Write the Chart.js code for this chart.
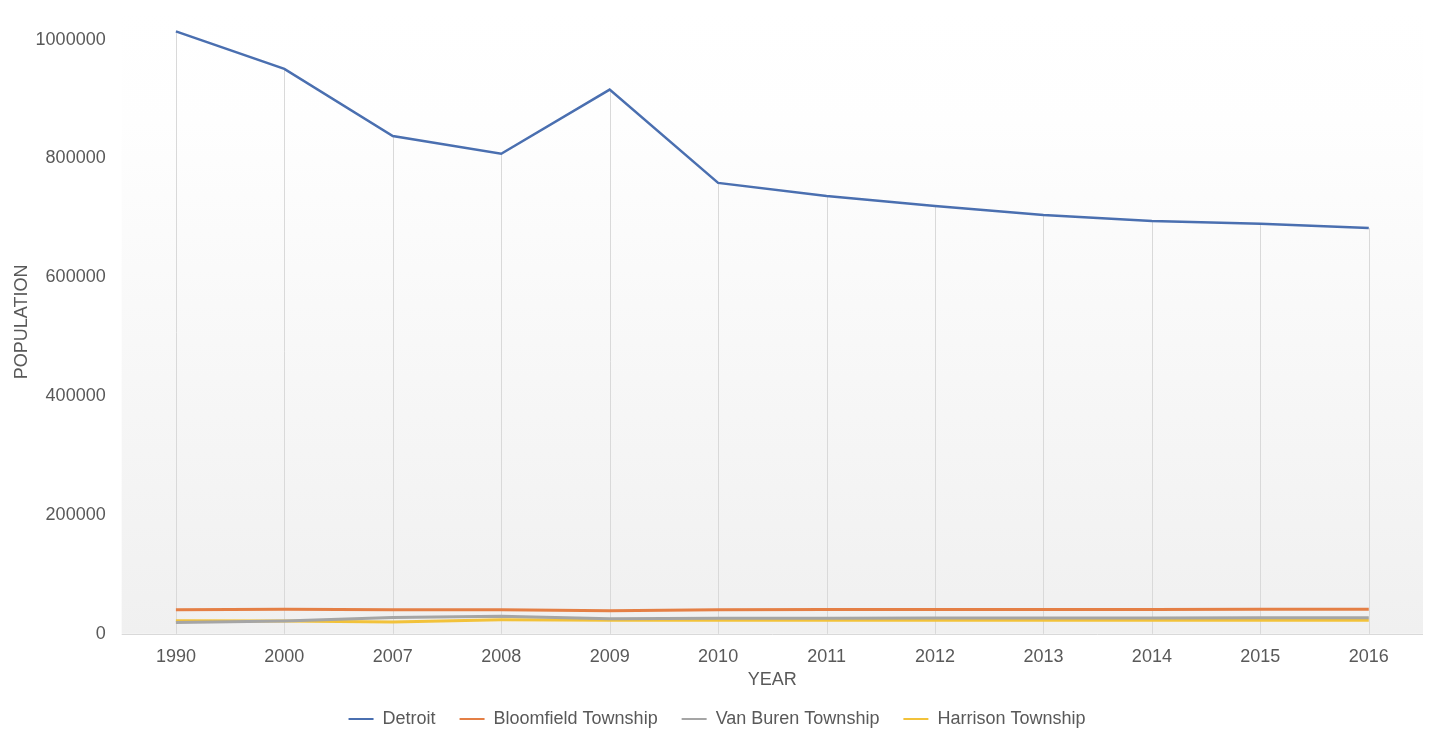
<!DOCTYPE html>
<html>
<head>
<meta charset="utf-8">
<title>Population</title>
<style>
  body { margin: 0; background: #fff; }
  #wrap { width: 1430px; height: 734px; }
</style>
</head>
<body>
<div id="wrap"><canvas id="popChart" width="1430" height="734"></canvas></div>
<script src="https://cdn.jsdelivr.net/npm/chart.js@4/dist/chart.umd.min.js"></script>
<script>
var years = ['1990', '2000', '2007', '2008', '2009', '2010', '2011', '2012', '2013', '2014', '2015', '2016'];
var detroit    = [1014000, 951000, 838000, 808000, 916000, 759000, 737000, 720000, 705000, 695000, 690000, 683000];
var bloomfield = [40500, 41500, 40500, 40500, 39000, 40500, 41000, 41000, 41000, 41000, 41500, 41500];
var vanBuren   = [19000, 21500, 27400, 29500, 25500, 26000, 26300, 26500, 26700, 26800, 27000, 27000];
var harrison   = [22000, 21500, 20000, 23500, 23000, 23000, 23000, 23000, 23000, 23000, 23000, 23000];
var yTicks = [0, 200000, 400000, 600000, 800000, 1000000];

var textColor = '#595959';
var font = { family: "'Liberation Sans', Arial, sans-serif", size: 18 };

// gradient plot background + drop lines from the highest point of each year
var plotDecor = {
  id: 'plotDecor',
  beforeDatasetsDraw: function (chart) {
    var ctx = chart.ctx, a = chart.chartArea;
    var x = chart.scales.x, y = chart.scales.y;
    ctx.save();
    var g = ctx.createLinearGradient(0, a.top, 0, a.bottom);
    g.addColorStop(0, '#ffffff');
    g.addColorStop(0.18, '#fefefe');
    g.addColorStop(1, '#f0f0f0');
    ctx.fillStyle = g;
    ctx.fillRect(a.left, a.top, a.right - a.left, a.bottom - a.top);
    ctx.strokeStyle = '#d9d9d9';
    ctx.lineWidth = 1;
    for (var i = 0; i < years.length; i++) {
      var top = Math.max(detroit[i], bloomfield[i], vanBuren[i], harrison[i]);
      var px = Math.round(x.getPixelForValue(i)) + 0.5;
      ctx.beginPath();
      ctx.moveTo(px, y.getPixelForValue(top));
      ctx.lineTo(px, a.bottom);
      ctx.stroke();
    }
    ctx.beginPath();
    ctx.moveTo(a.left, Math.round(a.bottom) + 0.5);
    ctx.lineTo(a.right, Math.round(a.bottom) + 0.5);
    ctx.stroke();
    ctx.restore();
  }
};

function series(label, data, color, width) {
  return {
    label: label,
    data: data,
    borderColor: color,
    backgroundColor: color,
    borderWidth: width,
    pointRadius: 0,
    tension: 0
  };
}

new Chart(document.getElementById('popChart'), {
  type: 'line',
  data: {
    labels: years,
    datasets: [
      series('Detroit', detroit, '#4A6FB0', 2.5),
      series('Bloomfield Township', bloomfield, '#E47F45', 3),
      series('Van Buren Township', vanBuren, '#A5A5A5', 3),
      series('Harrison Township', harrison, '#F2C23A', 3)
    ]
  },
  options: {
    responsive: false,
    animation: false,
    layout: { padding: { top: 10, right: 7, left: 11, bottom: -4 } },
    plugins: {
      legend: {
        position: 'bottom',
        labels: {
          color: textColor,
          font: font,
          boxWidth: 25,
          boxHeight: 2,
          padding: 24,
          generateLabels: function (chart) {
            var items = Chart.defaults.plugins.legend.labels.generateLabels(chart);
            items.forEach(function (it) { it.lineWidth = 0; });
            return items;
          }
        }
      },
      tooltip: { enabled: false }
    },
    scales: {
      x: {
        offset: true,
        grid: { display: false, drawTicks: false },
        border: { display: false },
        ticks: { color: textColor, font: font, padding: 12 },
        title: { display: true, text: 'YEAR', color: textColor, font: font, padding: { top: -10, bottom: -5 } }
      },
      y: {
        min: 0,
        max: 1050000,
        grid: { display: false, drawTicks: false },
        border: { display: false },
        afterBuildTicks: function (axis) {
          axis.ticks = yTicks.map(function (v) { return { value: v }; });
        },
        afterFit: function (axis) {
          axis.paddingTop = 0;
          axis.paddingBottom = 0;
        },
        ticks: {
          color: textColor, font: font, padding: 16,
          callback: function (v) { return String(v); }
        },
        title: { display: true, text: 'POPULATION', color: textColor, font: font, padding: { top: 0, bottom: -13 } }
      }
    }
  },
  plugins: [plotDecor]
});
</script>
</body>
</html>
